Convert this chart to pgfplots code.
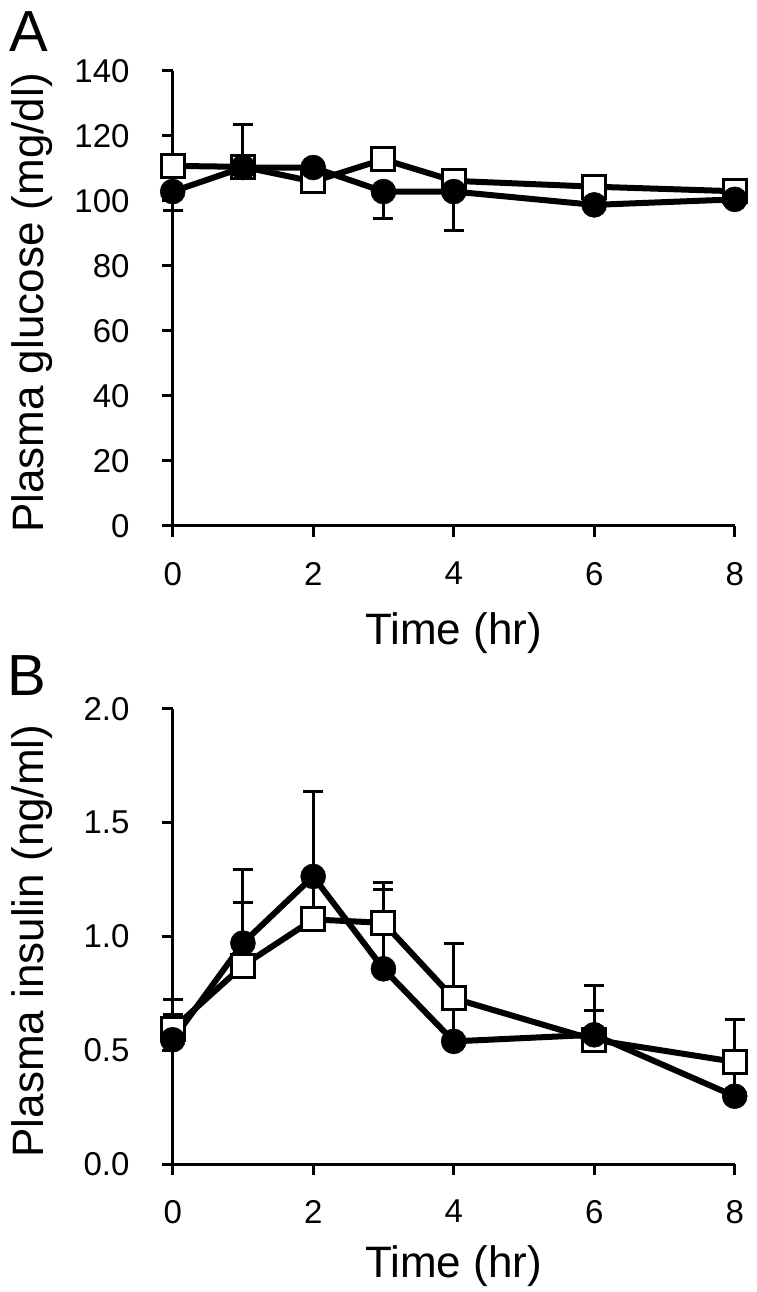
\documentclass[border=0pt]{standalone}
\usepackage{fontspec}
\setmainfont{Liberation Sans}
\usepackage{pgfplots}
\pgfplotsset{compat=1.18}

\pgfplotsset{
  panel/.style={
    scale only axis, width=562pt, height=455pt,
    anchor=south west,
    xmin=0, xmax=8, xtick={0,2,4,6,8},
    axis lines=left,
    axis line style={-, line width=3pt, black},
    x axis line style={line width=3pt},
    y axis line style={line width=3pt},
    tick align=outside, major tick length=11pt,
    major tick style={line width=3pt, black},
    clip=false,
    tick label style={font=\fontsize{33}{38}\selectfont, inner sep=0pt},
    xticklabel style={anchor=north, yshift=-25pt},
    yticklabel style={anchor=east, xshift=-32pt},
    label style={font=\fontsize{44}{50}\selectfont},
    /pgf/number format/assume math mode=true,
    xlabel={Time (hr)},
    xlabel style={at={(axis description cs:0.5,-0.2615)}, anchor=base},
    ylabel style={at={(axis description cs:-0.25,0.49)}, anchor=center},
  },
  sq/.style={line width=6pt, black, mark=square*,
    mark options={mark size=11.5pt, fill=white, line width=3pt, solid}},
  ci/.style={line width=6pt, black, mark=*,
    mark options={mark size=12.5pt, fill=black, line width=0.5pt, solid}},
  eb/.style={forget plot, only marks, mark=none, black,
    error bars/.cd, y explicit, y dir=#1,
    error bar style={line width=3pt, black},
    error mark options={rotate=90, mark size=10pt, line width=3pt, black}},
}

\begin{document}
\begin{tikzpicture}
\path[use as bounding box] (0,0) rectangle (756pt,1292pt);

% A: glucose
\begin{axis}[panel, at={(172.7pt,766pt)},
    ymin=0, ymax=140, ytick={0,20,...,140},
    ylabel={Plasma glucose (mg/dl)}]
\addplot[eb=plus] coordinates {(1,110.5) += (0,13.1)};
\addplot[eb=minus] coordinates {
  (0,102.9) -= (0,5.8)
  (3,102.9) -= (0,8.2)
  (4,102.9) -= (0,12.1)
};
\addplot[sq] coordinates {
  (0,110.8) (1,110.5) (2,106.0) (3,112.8) (4,106.2) (6,104.4) (8,103.0)
};
\addplot[ci] coordinates {
  (0,102.9) (1,110.3) (2,110.3) (3,102.9) (4,102.9) (6,98.8) (8,100.5)
};
\end{axis}

% B: insulin
\begin{axis}[panel, at={(172.7pt,128pt)},
    ymin=0, ymax=2, ytick={0,0.5,...,2},
    yticklabel style={/pgf/number format/.cd, fixed, fixed zerofill, precision=1},
    xlabel style={at={(axis description cs:0.5,-0.25)}},
    ylabel={Plasma insulin (ng/ml)}]
\addplot[eb=plus] coordinates {
  (0,0.593) += (0,0.129)
  (1,0.872) += (0,0.279)
  (2,1.075) += (0,0.18)
  (3,1.060) += (0,0.176)
  (4,0.728) += (0,0.240)
  (6,0.546) += (0,0.238)
  (8,0.449) += (0,0.185)
};
\addplot[eb=plus] coordinates {
  (0,0.546) += (0,0.110)
  (1,0.971) += (0,0.323)
  (2,1.264) += (0,0.375)
  (3,0.858) += (0,0.348)
  (4,0.539) += (0,0.15)
  (6,0.568) += (0,0.107)
  (8,0.298) += (0,0.12)
};
\addplot[sq] coordinates {
  (0,0.593) (1,0.872) (2,1.075) (3,1.060) (4,0.728) (6,0.546) (8,0.449)
};
\addplot[ci] coordinates {
  (0,0.546) (1,0.971) (2,1.264) (3,0.858) (4,0.539) (6,0.568) (8,0.298)
};
\end{axis}

\node[font=\fontsize{58}{64}\selectfont] at (29pt,1260pt) {A};
\node[font=\fontsize{58}{64}\selectfont] at (27pt,616pt) {B};
\end{tikzpicture}
\end{document}
